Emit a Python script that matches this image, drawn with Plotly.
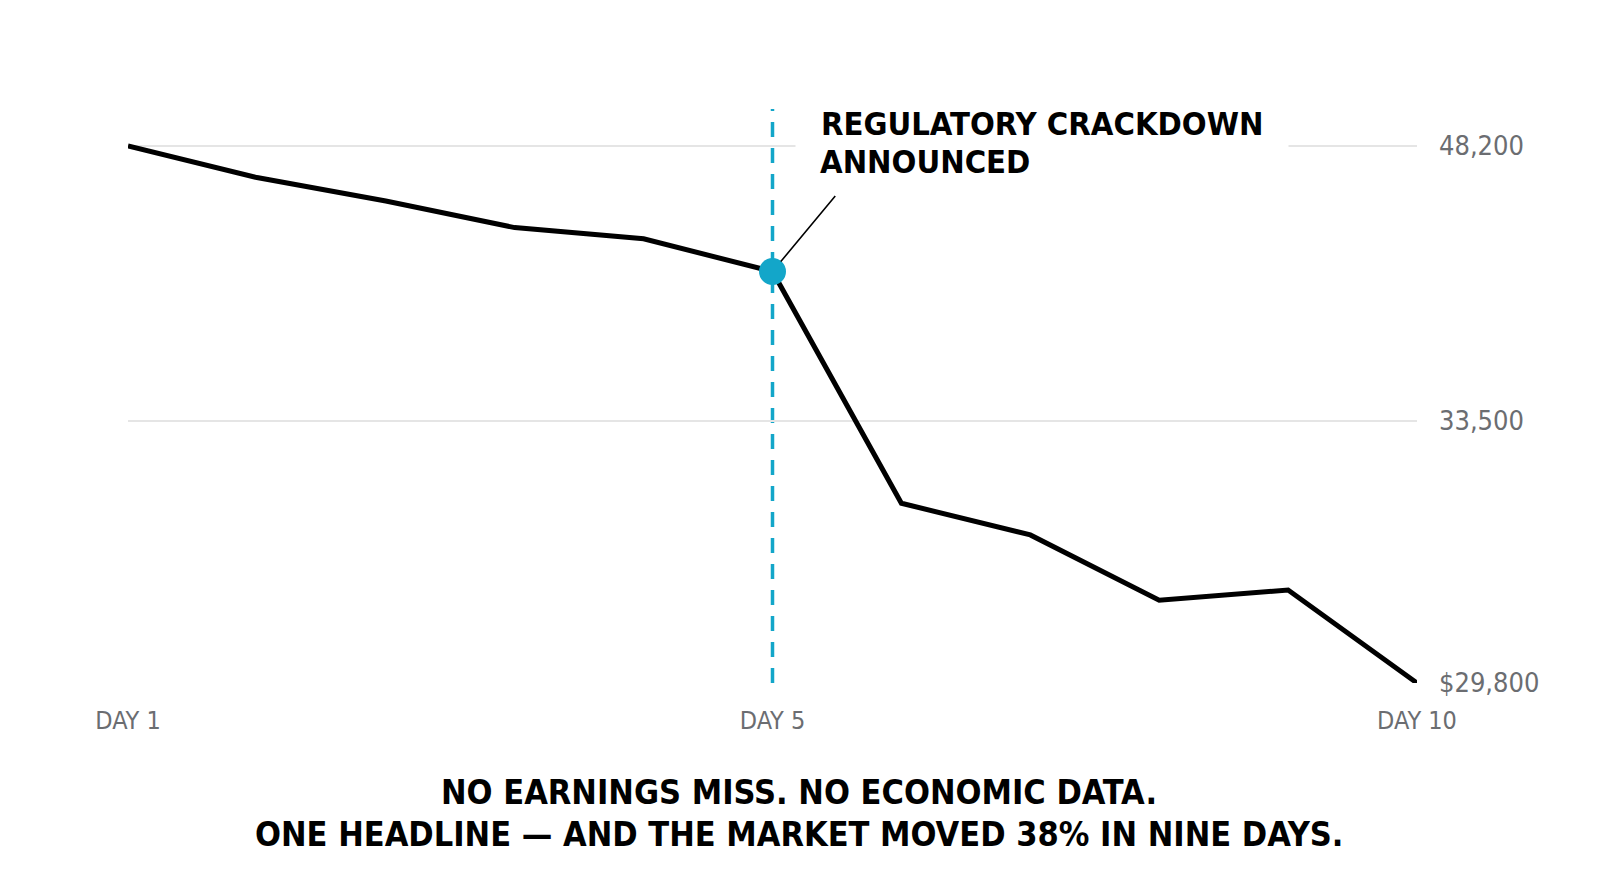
import plotly.graph_objects as go

# ---- data ----
day_index = [0, 1, 2, 3, 4, 5, 6, 7, 8, 9, 10]
price = [48200, 47116, 46311, 45402, 45017, 43897, 35957, 34873, 32634, 32984, 29800]
event_index = 5
event_label_1 = "REGULATORY CRACKDOWN"
event_label_2 = "ANNOUNCED"
x_tickvals = [0, 5, 10]
x_ticktext = ["DAY 1", "DAY 5", "DAY 10"]
y_tickvals = [29800, 38790, 48200]
y_ticktext = ["$29,800", "33,500", "48,200"]
caption_1 = "NO EARNINGS MISS. NO ECONOMIC DATA."
caption_2 = "ONE HEADLINE \u2014 AND THE MARKET MOVED 38% IN NINE DAYS."

FONT = "DejaVu Sans Condensed, DejaVu Sans, sans-serif"
BLUE = "#13a6c9"
GREY = "#6b6d71"

fig = go.Figure()
fig.add_trace(go.Scatter(
    x=day_index, y=price, mode="lines",
    line=dict(color="#000000", width=5), hoverinfo="skip", showlegend=False,
))
fig.add_trace(go.Scatter(
    x=[day_index[event_index]], y=[price[event_index]], mode="markers",
    marker=dict(color=BLUE, size=27, line=dict(width=0)), showlegend=False,
))

fig.add_shape(type="line", xref="x", yref="y domain",
              x0=day_index[event_index], x1=day_index[event_index], y0=0, y1=1,
              line=dict(color=BLUE, width=3.5, dash="15px,11px"), layer="below")

# leader line
fig.add_annotation(x=day_index[event_index], y=price[event_index], xref="x", yref="y",
                   text="", showarrow=True, arrowhead=0, arrowwidth=1.6, arrowcolor="#000",
                   ax=64, ay=-77, standoff=13)
# event labels
fig.add_annotation(x=day_index[event_index], y=price[0], xref="x", yref="y",
                   text=event_label_1, showarrow=False, xanchor="left", yanchor="middle",
                   xshift=22, yshift=22, bgcolor="#ffffff", borderpad=25,
                   font=dict(family=FONT, size=32.5, color="#000", weight="bold"))
fig.add_annotation(x=day_index[event_index], y=price[0], xref="x", yref="y",
                   text=event_label_2, showarrow=False, xanchor="left", yanchor="middle",
                   xshift=45, yshift=-16,
                   font=dict(family=FONT, size=32.5, color="#000", weight="bold"))
# captions (centred on the page)
CAP_X = 0.5208
fig.add_annotation(x=CAP_X, y=0, xref="paper", yref="paper", text=caption_1,
                   showarrow=False, xanchor="center", yanchor="middle", yshift=-109,
                   font=dict(family=FONT, size=34, color="#000", weight="bold"))
fig.add_annotation(x=CAP_X, y=0, xref="paper", yref="paper", text=caption_2,
                   showarrow=False, xanchor="center", yanchor="middle", yshift=-151,
                   font=dict(family=FONT, size=34, color="#000", weight="bold"))

fig.update_layout(
    width=1592, height=885,
    margin=dict(l=120, r=183, t=101, b=210),
    paper_bgcolor="#ffffff", plot_bgcolor="#ffffff",
    font=dict(family=FONT),
    xaxis=dict(range=[0, 10], tickvals=x_tickvals, ticktext=x_ticktext,
               showgrid=False, zeroline=False, showline=False, ticks="",
               ticklabelstandoff=20,
               tickfont=dict(family=FONT, size=25, color=GREY)),
    yaxis=dict(range=[29800, 49465], tickvals=y_tickvals, ticktext=y_ticktext,
               side="right", showgrid=True, gridcolor="#e5e5e5", gridwidth=2,
               zeroline=False, showline=False, ticks="", ticklabelstandoff=21,
               tickfont=dict(family=FONT, size=27, color=GREY)),
)

fig.write_html("out.html")
